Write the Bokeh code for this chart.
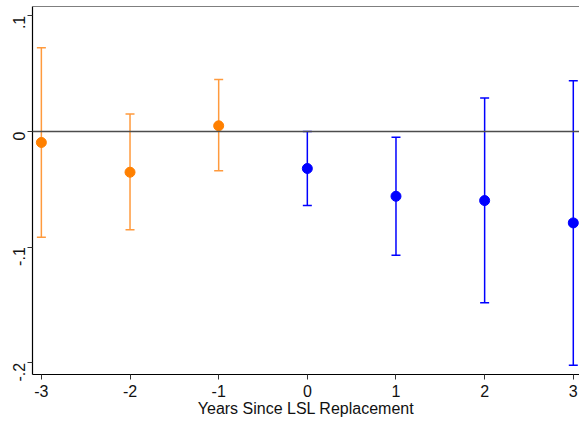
import math
from bokeh.plotting import figure
from bokeh.models import ColumnDataSource, Whisker, Span, FixedTicker
from bokeh.embed import file_html
from bokeh.resources import INLINE

# Event-study estimates with 95% confidence intervals
pre_years = [-3, -2, -1]
pre_est = [-0.0095, -0.0352, 0.0049]
pre_lo = [-0.0913, -0.0850, -0.0340]
pre_hi = [0.0723, 0.0150, 0.0450]

post_years = [0, 1, 2, 3]
post_est = [-0.0320, -0.0560, -0.0597, -0.0790]
post_lo = [-0.0640, -0.1070, -0.1480, -0.2020]
post_hi = [0.0000, -0.0050, 0.0290, 0.0439]

y_ticks = [0.1, 0.0, -0.1, -0.2]
y_tick_labels = {0.1: ".1", 0.0: "0", -0.1: "-.1", -0.2: "-.2"}
x_ticks = [-3, -2, -1, 0, 1, 2, 3]
x_tick_labels = {-3: "-3", -2: "-2", -1: "-1", 0: "0", 1: "1", 2: "2", 3: "3"}

FONT = "Liberation Sans"
ORANGE = "#ff8000"
ORANGE_BAR = "#ff9a3d"
BLUE = "#0000ff"

p = figure(width=579, height=421, output_backend="svg", toolbar_location=None,
           x_range=(-3.10, 3.07), y_range=(-0.210, 0.108),
           min_border_left=32, min_border_right=0, min_border_top=6, min_border_bottom=47)
p.outline_line_color = None
p.xgrid.visible = False
p.ygrid.visible = False
p.background_fill_color = "white"
p.border_fill_color = "white"

# zero reference line and top frame line
p.add_layout(Span(location=0, dimension="width", line_color="#4d4d4d", line_width=1.5))
p.add_layout(Span(location=0.108, dimension="width", line_color="black", line_width=1.2))

for years, est, lo, hi, bar_col, pt_col in [
    (pre_years, pre_est, pre_lo, pre_hi, ORANGE_BAR, ORANGE),
    (post_years, post_est, post_lo, post_hi, BLUE, BLUE),
]:
    src = ColumnDataSource(dict(x=years, y=est, lo=lo, hi=hi))
    w = Whisker(base="x", lower="lo", upper="hi", source=src,
                line_color=bar_col, line_width=1.5)
    w.upper_head.size = 9
    w.lower_head.size = 9
    w.upper_head.line_color = bar_col
    w.lower_head.line_color = bar_col
    w.upper_head.line_width = 1.5
    w.lower_head.line_width = 1.5
    p.add_layout(w)
    p.scatter("x", "y", source=src, size=10, fill_color=pt_col, line_color=pt_col)

# x axis
p.xaxis.ticker = FixedTicker(ticks=x_ticks)
p.xaxis.major_label_overrides = x_tick_labels
p.xaxis.axis_label = "Years Since LSL Replacement"
p.xaxis.axis_label_text_font = FONT
p.xaxis.axis_label_text_font_style = "normal"
p.xaxis.axis_label_text_font_size = "16px"
p.xaxis.axis_label_text_color = "#111111"
p.xaxis.axis_label_standoff = 0
p.xaxis.major_label_text_font = FONT
p.xaxis.major_label_text_font_size = "16px"
p.xaxis.major_label_standoff = 5

# y axis
p.yaxis.ticker = FixedTicker(ticks=y_ticks)
p.yaxis.major_label_overrides = y_tick_labels
p.yaxis.major_label_orientation = math.pi / 2
p.yaxis.major_label_text_font = FONT
p.yaxis.major_label_text_font_size = "16px"
p.yaxis.major_label_standoff = 8

for ax in (p.xaxis, p.yaxis):
    ax.axis_line_color = "black"
    ax.axis_line_width = 1.2
    ax.major_label_text_color = "#111111"
    ax.major_tick_line_color = "#333333"
    ax.major_tick_line_width = 1
    ax.major_tick_out = 5
    ax.major_tick_in = 0
    ax.minor_tick_line_color = None

open("out.html", "w").write(file_html(p, INLINE))
